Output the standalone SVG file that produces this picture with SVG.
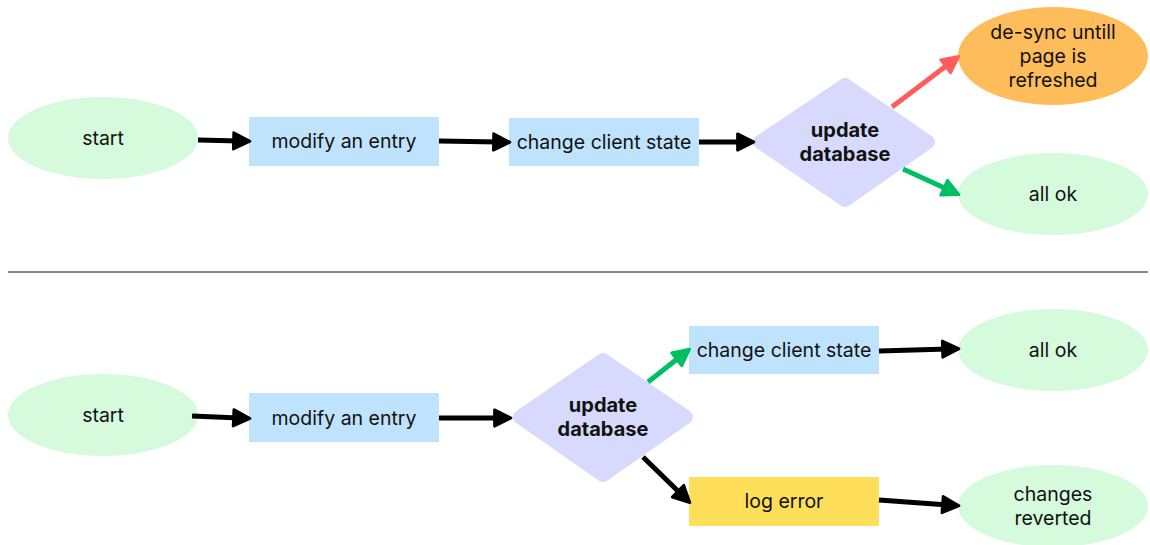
<svg xmlns="http://www.w3.org/2000/svg" width="1150" height="545" viewBox="0 0 1150 545">
  <style>
    text { font-family: Inter, "DejaVu Sans", sans-serif; font-size: 19.5px; fill: #111; text-anchor: middle; dominant-baseline: central; }
    .b { font-weight: 700; font-size: 20px; }
    .term { fill: #D5FADC; }
    .proc { fill: #C0E3FD; }
    .dec { fill: #D7DAFC; stroke: #D7DAFC; stroke-width: 14; stroke-linejoin: round; }
    .warn { fill: #FFBC5B; }
    .err { fill: #FFDE59; }
    .k { stroke: #000; stroke-width: 5; fill: none; }
    .r { stroke: #FF5C5C; stroke-width: 5; fill: none; }
    .g { stroke: #00BF63; stroke-width: 5; fill: none; }
  </style>
  <defs>
    <marker id="hk" markerUnits="userSpaceOnUse" markerWidth="22" markerHeight="22" viewBox="-2 -10 19 20" refX="5" refY="0" orient="auto">
      <path d="M0,-7.5 L15,0 L0,7.5 Z" fill="#000" stroke="#000" stroke-width="2.5" stroke-linejoin="round"/>
    </marker>
    <marker id="hr" markerUnits="userSpaceOnUse" markerWidth="22" markerHeight="22" viewBox="-2 -10 19 20" refX="5" refY="0" orient="auto">
      <path d="M0,-7.5 L15,0 L0,7.5 Z" fill="#FF5C5C" stroke="#FF5C5C" stroke-width="2.5" stroke-linejoin="round"/>
    </marker>
    <marker id="hg" markerUnits="userSpaceOnUse" markerWidth="22" markerHeight="22" viewBox="-2 -10 19 20" refX="5" refY="0" orient="auto">
      <path d="M0,-7.5 L15,0 L0,7.5 Z" fill="#00BF63" stroke="#00BF63" stroke-width="2.5" stroke-linejoin="round"/>
    </marker>
  </defs>

  <!-- upper flow -->
  <g id="start1"><ellipse class="term" cx="103" cy="138" rx="95" ry="41"/><text x="103" y="138">start</text></g>
  <g id="modify1"><rect class="proc" x="249" y="117" width="190" height="49"/><text x="344" y="141">modify an entry</text></g>
  <g id="client1"><rect class="proc" x="509" y="118" width="190" height="48"/><text x="604" y="142">change client state</text></g>
  <g id="update1"><polygon class="dec" points="760,142 845,85 928,142 845,200"/><text class="b" x="845" y="130">update</text><text class="b" x="845" y="154">database</text></g>
  <g id="desync"><ellipse class="warn" cx="1053" cy="56" rx="95" ry="49"/><text x="1053" y="32">de-sync untill</text><text x="1053" y="56">page is</text><text x="1053" y="80">refreshed</text></g>
  <g id="ok1"><ellipse class="term" cx="1053" cy="194" rx="95" ry="41"/><text x="1053" y="194">all ok</text></g>

  <line x1="8" y1="272" x2="1148" y2="272" stroke="#111" stroke-width="1"/>

  <!-- lower flow -->
  <g id="start2"><ellipse class="term" cx="103" cy="415" rx="95" ry="41"/><text x="103" y="415">start</text></g>
  <g id="modify2"><rect class="proc" x="249" y="393" width="190" height="49"/><text x="344" y="418">modify an entry</text></g>
  <g id="update2"><polygon class="dec" points="520,417 603,360 686,417 603,475"/><text class="b" x="603" y="405">update</text><text class="b" x="603" y="429">database</text></g>
  <g id="client2"><rect class="proc" x="689" y="326" width="190" height="48"/><text x="784" y="350">change client state</text></g>
  <g id="logerr"><rect class="err" x="689" y="477" width="190" height="49"/><text x="784" y="501">log error</text></g>
  <g id="ok2"><ellipse class="term" cx="1053" cy="350" rx="95" ry="41"/><text x="1053" y="350">all ok</text></g>
  <g id="reverted"><ellipse class="term" cx="1053" cy="506" rx="95" ry="41"/><text x="1053" y="494">changes</text><text x="1053" y="518">reverted</text></g>

  <g id="connectors">
    <line class="k" x1="198" y1="140" x2="239" y2="141" marker-end="url(#hk)"/>
    <line class="k" x1="439" y1="141" x2="499" y2="142" marker-end="url(#hk)"/>
    <line class="k" x1="699" y1="142" x2="743" y2="142" marker-end="url(#hk)"/>
    <line class="r" x1="892" y1="107" x2="950" y2="63" marker-end="url(#hr)"/>
    <line class="g" x1="903" y1="169" x2="949" y2="190" marker-end="url(#hg)"/>

    <line class="k" x1="192" y1="416" x2="239" y2="418" marker-end="url(#hk)"/>
    <line class="k" x1="439" y1="418" x2="500" y2="418" marker-end="url(#hk)"/>
    <line class="g" x1="648" y1="382" x2="681" y2="356" marker-end="url(#hg)"/>
    <line class="k" x1="643" y1="457" x2="682" y2="495" marker-end="url(#hk)"/>
    <line class="k" x1="879" y1="351" x2="948" y2="349" marker-end="url(#hk)"/>
    <line class="k" x1="879" y1="500" x2="948" y2="505" marker-end="url(#hk)"/>
  </g>
</svg>
